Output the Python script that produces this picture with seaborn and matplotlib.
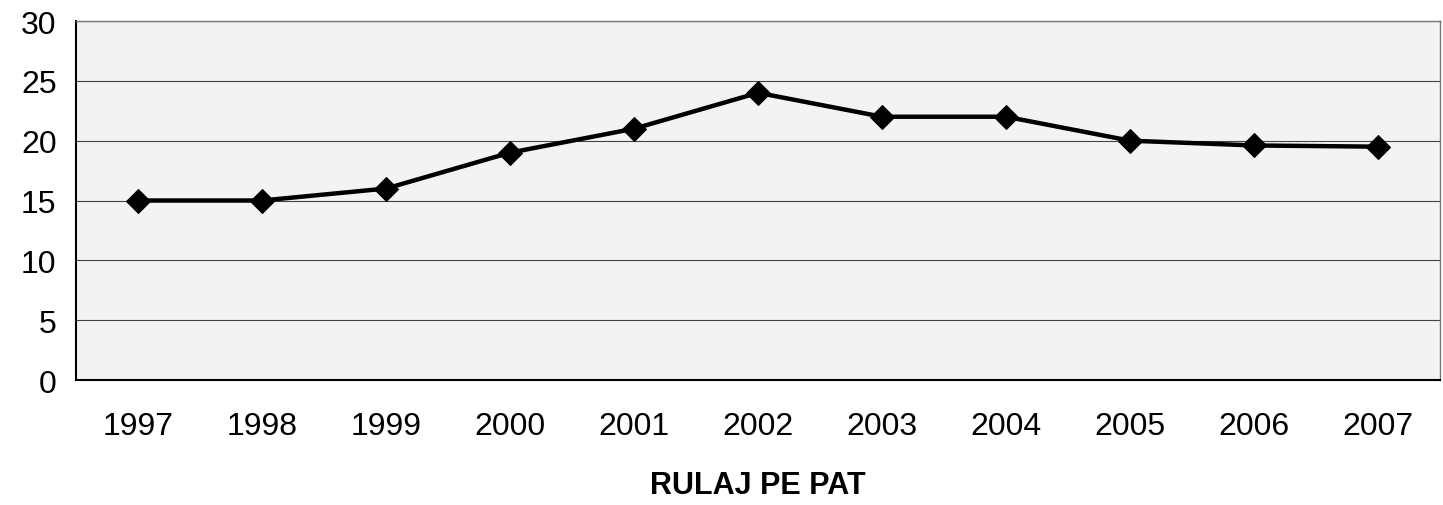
import matplotlib
matplotlib.use("Agg")
import matplotlib.pyplot as plt
import seaborn as sns
import pandas as pd

years = ["1997", "1998", "1999", "2000", "2001", "2002", "2003", "2004", "2005", "2006", "2007"]
values = [15, 15, 16, 19, 21, 24, 22, 22, 20, 19.6, 19.5]

df = pd.DataFrame({"An": years, "Rulaj": values})

sns.set_style("white")
plt.rcParams["font.family"] = ["Liberation Sans", "DejaVu Sans"]
plt.rcParams["text.color"] = "black"
plt.rcParams["xtick.color"] = "black"
plt.rcParams["ytick.color"] = "black"
plt.rcParams["axes.labelcolor"] = "black"

fig = plt.figure(figsize=(14.43, 5.06), dpi=100)
ax = fig.add_axes([0.0527, 0.247, 0.9453, 0.7095])
ax.set_facecolor("#f3f3f3")

sns.lineplot(data=df, x="An", y="Rulaj", sort=False, color="black",
             marker="D", markersize=12, linewidth=3.2, markeredgecolor="black", ax=ax)

ax.set_xlim(-0.5, len(years) - 0.5)
ax.set_ylim(0, 30)
ax.set_yticks(range(0, 31, 5))
ax.yaxis.grid(True, color="#444444", linewidth=0.8)
ax.set_axisbelow(True)

for side in ["top", "right"]:
    ax.spines[side].set_color("#777777")
    ax.spines[side].set_linewidth(1)
for side in ["left", "bottom"]:
    ax.spines[side].set_color("black")
    ax.spines[side].set_linewidth(1.5)

ax.tick_params(axis="both", length=0, labelsize=23, labelcolor="black")
ax.tick_params(axis="x", pad=22)
ax.tick_params(axis="y", pad=14)

ax.set_ylabel("")
ax.set_xlabel("RULAJ PE PAT", fontsize=22, fontweight="bold", labelpad=21, color="black")

plt.savefig("out.png", dpi=100)
